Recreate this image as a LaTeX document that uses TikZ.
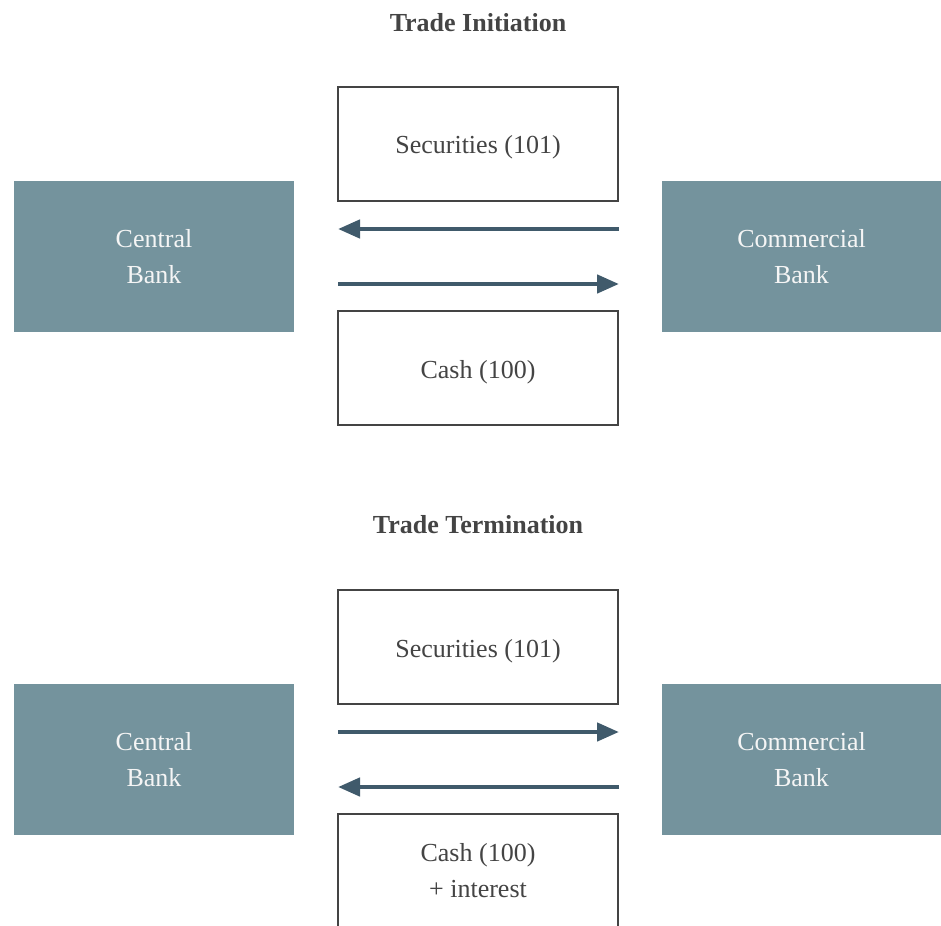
\documentclass[tikz,border=0pt]{standalone}
\usepackage{fontspec}
\setmainfont{Liberation Serif}
\usetikzlibrary{arrows.meta}
\definecolor{bankfill}{HTML}{74939D}
\definecolor{flowcol}{HTML}{405A6B}
\definecolor{textgray}{HTML}{444444}
\begin{document}
\begin{tikzpicture}[x=1pt, y=-1pt,
  bank/.style={fill=bankfill, text=white!96!black, minimum width=280pt, minimum height=151pt, align=center, font=\fontsize{26}{36}\selectfont},
  asset/.style={draw=textgray, line width=2pt, fill=white, text=textgray, minimum width=280pt, minimum height=114pt, align=center, font=\fontsize{26}{36}\selectfont},
  oneline/.style={text height=25pt, text depth=5pt},
  heading/.style={text=textgray, font=\fontsize{26}{32}\selectfont\bfseries},
  flow/.style={draw=flowcol, line width=4.5pt, -{Triangle[length=22pt, width=18pt]}}]
\useasboundingbox (0,0) rectangle (941,925);
% trade initiation
\node [heading] (title1) at (478,23) {Trade Initiation};
\node [bank] (cb1) at (154,256.5) {Central\\Bank};
\node [bank] (comm1) at (801.5,256.5) {Commercial\\Bank};
\node [asset, oneline] (sec1) at (478,144) {Securities (101)};
\node [asset, oneline] (cash1) at (478,368) {Cash (100)};
\coordinate (s1l) at (338,229);
\coordinate (s1r) at (619,229);
\coordinate (c1l) at (338,284);
\coordinate (c1r) at (619,284);
\draw [flow] (s1r) -- (s1l);
\draw [flow] (c1l) -- (c1r);
% trade termination
\node [heading] (title2) at (478,525) {Trade Termination};
\node [bank] (cb2) at (154,759.5) {Central\\Bank};
\node [bank] (comm2) at (801.5,759.5) {Commercial\\Bank};
\node [asset, oneline] (sec2) at (478,647) {Securities (101)};
\node [asset] (cash2) at (478,871) {Cash (100)\\+ interest};
\coordinate (s2l) at (338,732);
\coordinate (s2r) at (619,732);
\coordinate (c2l) at (338,787);
\coordinate (c2r) at (619,787);
\draw [flow] (s2l) -- (s2r);
\draw [flow] (c2r) -- (c2l);
\end{tikzpicture}
\end{document}
